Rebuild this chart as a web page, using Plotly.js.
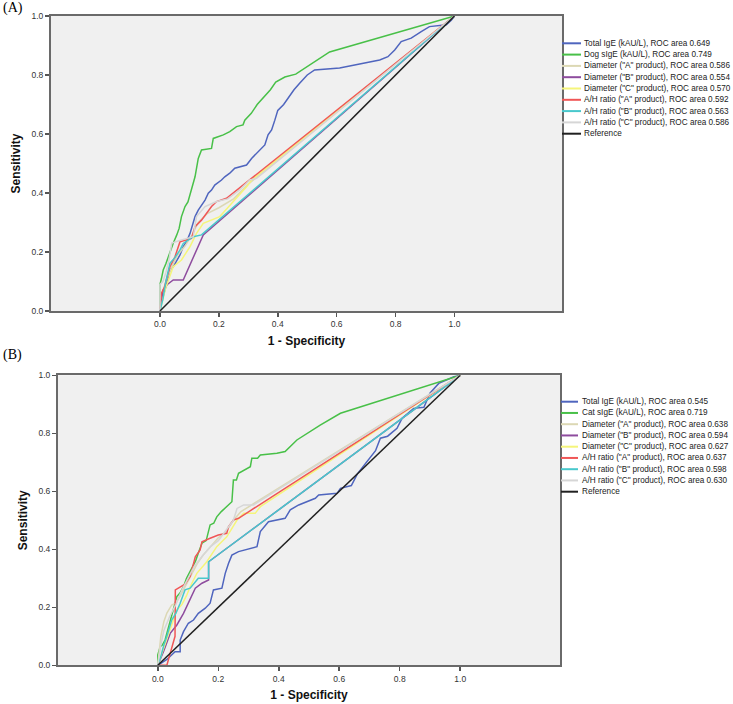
<!DOCTYPE html>
<html>
<head>
<meta charset="utf-8">
<script src="https://cdn.plot.ly/plotly-3.0.1.min.js"></script>
<style>html,body{margin:0;padding:0;background:#fff;}#chart{width:733px;height:704px;}</style>
</head>
<body>
<div id="chart"></div>
<script>
// ---------------- Data: Panel A (Dog) ----------------
const namesA = [
  'Total IgE (kAU/L), ROC area 0.649',
  'Dog sIgE (kAU/L), ROC area 0.749',
  'Diameter ("A" product), ROC area 0.586',
  'Diameter ("B" product), ROC area 0.554',
  'Diameter ("C" product), ROC area 0.570',
  'A/H ratio ("A" product), ROC area 0.592',
  'A/H ratio ("B" product), ROC area 0.563',
  'A/H ratio ("C" product), ROC area 0.586',
  'Reference'
];
const namesB = [
  'Total IgE (kAU/L), ROC area 0.545',
  'Cat sIgE (kAU/L), ROC area 0.719',
  'Diameter ("A" product), ROC area 0.638',
  'Diameter ("B" product), ROC area 0.594',
  'Diameter ("C" product), ROC area 0.627',
  'A/H ratio ("A" product), ROC area 0.637',
  'A/H ratio ("B" product), ROC area 0.598',
  'A/H ratio ("C" product), ROC area 0.630',
  'Reference'
];
const colors = ['#4F65BE','#48C048','#DCD8B4','#8E4C9E','#F5F57A','#F05656','#48C8CC','#D6D6D6','#202020'];

// Total IgE (A)
const a_totalIgE_x = [0,0.005,0.017,0.025,0.034,0.045,0.057,0.068,0.079,0.09,0.102,0.11,0.119,0.13,0.142,0.153,0.164,0.175,0.186,0.198,0.209,0.22,0.237,0.254,0.294,0.311,0.333,0.345,0.356,0.367,0.379,0.39,0.40,0.42,0.44,0.455,0.475,0.50,0.525,0.61,0.678,0.746,0.774,0.797,0.819,0.853,0.887,0.915,0.972,0.989,1];
const a_totalIgE_y = [0,0.03,0.071,0.10,0.139,0.15,0.173,0.19,0.218,0.235,0.263,0.29,0.32,0.342,0.36,0.376,0.399,0.41,0.427,0.435,0.444,0.455,0.467,0.484,0.495,0.517,0.54,0.55,0.563,0.597,0.614,0.647,0.68,0.70,0.73,0.75,0.773,0.80,0.817,0.824,0.837,0.851,0.862,0.885,0.913,0.925,0.947,0.964,0.97,0.986,1];
// Dog sIgE (A)
const a_sIgE_x = [0,0,0.005,0.011,0.02,0.03,0.04,0.045,0.057,0.065,0.073,0.085,0.095,0.107,0.119,0.13,0.141,0.175,0.181,0.215,0.237,0.26,0.282,0.288,0.31,0.33,0.356,0.375,0.393,0.424,0.461,0.576,1];
const a_sIgE_y = [0,0.09,0.11,0.139,0.16,0.19,0.218,0.23,0.258,0.28,0.32,0.354,0.37,0.41,0.455,0.517,0.546,0.551,0.585,0.597,0.608,0.625,0.631,0.647,0.67,0.70,0.73,0.75,0.776,0.793,0.803,0.878,1];
// Diameter A (A)
const a_diamA_x = [0,0.005,0.02,0.04,0.06,0.085,0.11,0.13,0.16,0.2,0.25,0.3,1];
const a_diamA_y = [0,0.05,0.10,0.15,0.19,0.22,0.26,0.30,0.33,0.35,0.38,0.43,1];
// Diameter B (A)
const a_diamB_x = [0,0.011,0.025,0.045,0.079,0.09,0.102,0.124,0.132,0.147,1];
const a_diamB_y = [0,0.071,0.09,0.105,0.105,0.13,0.162,0.207,0.229,0.258,1];
// Diameter C (A)
const a_diamC_x = [0,0.02,0.045,0.073,0.102,0.124,0.147,0.203,0.23,0.26,0.294,0.311,1];
const a_diamC_y = [0,0.08,0.15,0.173,0.218,0.263,0.297,0.32,0.35,0.382,0.421,0.444,1];
// A/H ratio A (A)
const a_ahA_x = [0,0.005,0.015,0.034,0.051,0.068,0.107,0.119,0.141,0.158,0.175,0.192,0.226,1];
const a_ahA_y = [0,0.06,0.08,0.15,0.184,0.235,0.246,0.286,0.308,0.331,0.354,0.371,0.382,1];
// A/H ratio B (A)
const a_ahB_x = [0,0.01,0.02,0.034,0.05,0.068,0.079,0.113,0.141,1];
const a_ahB_y = [0,0.04,0.10,0.162,0.18,0.207,0.229,0.252,0.258,1];
// A/H ratio C (A)
const a_ahC_x = [0,0,0.01,0.02,0.03,0.04,0.07,0.113,0.124,0.153,0.192,0.23,0.27,0.305,0.328,1];
const a_ahC_y = [0,0.09,0.10,0.13,0.17,0.23,0.24,0.252,0.32,0.354,0.371,0.38,0.41,0.444,0.45,1];
// Reference
const ref_x = [0,1];
const ref_y = [0,1];

// ---------------- Data: Panel B (Cat) ----------------
const b_totalIgE_x = [0,0.03,0.057,0.074,0.074,0.085,0.101,0.118,0.134,0.157,0.173,0.184,0.212,0.223,0.234,0.245,0.267,0.328,0.339,0.366,0.421,0.438,0.466,0.493,0.521,0.532,0.593,0.604,0.64,0.66,0.69,0.72,0.736,0.76,0.791,0.808,0.846,0.88,0.9,0.929,0.979,1];
const b_totalIgE_y = [0,0.02,0.047,0.047,0.087,0.116,0.145,0.156,0.179,0.197,0.214,0.26,0.266,0.317,0.352,0.38,0.392,0.409,0.461,0.495,0.507,0.536,0.553,0.564,0.576,0.587,0.593,0.61,0.62,0.66,0.70,0.74,0.783,0.79,0.817,0.852,0.886,0.89,0.938,0.972,0.995,1];
const b_sIgE_x = [0,0,0.008,0.015,0.024,0.03,0.04,0.05,0.063,0.074,0.085,0.095,0.113,0.125,0.135,0.146,0.16,0.173,0.185,0.195,0.21,0.228,0.245,0.25,0.26,0.267,0.306,0.311,0.33,0.339,0.394,0.421,0.46,0.537,0.604,1];
const b_sIgE_y = [0,0.036,0.064,0.07,0.087,0.11,0.15,0.19,0.237,0.25,0.271,0.30,0.334,0.36,0.39,0.421,0.43,0.484,0.49,0.512,0.53,0.547,0.564,0.639,0.639,0.662,0.685,0.714,0.714,0.725,0.731,0.737,0.777,0.828,0.869,1];
const b_diamA_x = [0,0.005,0.01,0.02,0.03,0.046,0.06,0.075,0.09,0.11,0.13,0.15,0.175,0.2,0.225,0.25,0.275,1];
const b_diamA_y = [0,0.05,0.10,0.15,0.18,0.208,0.215,0.24,0.27,0.31,0.35,0.38,0.41,0.44,0.46,0.50,0.53,1];
const b_diamB_x = [0,0.02,0.041,0.063,0.085,0.107,0.124,0.146,0.168,0.168,1];
const b_diamB_y = [0,0.05,0.11,0.139,0.179,0.231,0.266,0.283,0.294,0.357,1];
const b_diamC_x = [0,0.02,0.04,0.063,0.08,0.095,0.107,0.129,0.162,0.195,0.228,0.262,0.284,0.322,0.339,1];
const b_diamC_y = [0,0.06,0.12,0.191,0.21,0.24,0.271,0.317,0.357,0.409,0.443,0.501,0.524,0.524,0.547,1];
const b_ahA_x = [0,0.03,0.041,0.052,0.057,0.058,0.074,0.09,0.107,0.115,0.124,0.14,0.146,0.173,0.2,0.228,0.234,0.25,0.267,1];
const b_ahA_y = [0,0,0.041,0.087,0.10,0.26,0.271,0.28,0.306,0.34,0.374,0.398,0.426,0.438,0.449,0.455,0.478,0.501,0.507,1];
const b_ahB_x = [0,0.01,0.02,0.03,0.046,0.06,0.074,0.09,0.107,0.134,0.168,0.168,1];
const b_ahB_y = [0,0.03,0.07,0.10,0.156,0.18,0.214,0.26,0.266,0.30,0.30,0.357,1];
const b_ahC_x = [0,0.01,0.02,0.04,0.06,0.08,0.10,0.12,0.15,0.175,0.20,0.23,0.25,0.262,0.284,0.317,1];
const b_ahC_y = [0,0.07,0.12,0.17,0.21,0.26,0.30,0.34,0.38,0.41,0.43,0.47,0.50,0.541,0.553,0.553,1];

const seriesA = [
  [a_totalIgE_x,a_totalIgE_y],[a_sIgE_x,a_sIgE_y],[a_diamA_x,a_diamA_y],[a_diamB_x,a_diamB_y],
  [a_diamC_x,a_diamC_y],[a_ahA_x,a_ahA_y],[a_ahB_x,a_ahB_y],[a_ahC_x,a_ahC_y],[ref_x,ref_y]
];
const seriesB = [
  [b_totalIgE_x,b_totalIgE_y],[b_sIgE_x,b_sIgE_y],[b_diamA_x,b_diamA_y],[b_diamB_x,b_diamB_y],
  [b_diamC_x,b_diamC_y],[b_ahA_x,b_ahA_y],[b_ahB_x,b_ahB_y],[b_ahC_x,b_ahC_y],[ref_x,ref_y]
];
const tickVals = [0,0.2,0.4,0.6,0.8,1.0];
const tickText = ['0.0','0.2','0.4','0.6','0.8','1.0'];

// ---------------- Build ----------------
const W = 733, H = 704;
const traces = [];
seriesA.forEach((s,i)=>traces.push({x:s[0],y:s[1],type:'scatter',mode:'lines',name:namesA[i],
  line:{color:colors[i],width:1.5},xaxis:'x',yaxis:'y',showlegend:false,hoverinfo:'skip'}));
seriesB.forEach((s,i)=>traces.push({x:s[0],y:s[1],type:'scatter',mode:'lines',name:namesB[i],
  line:{color:colors[i],width:1.5},xaxis:'x2',yaxis:'y2',showlegend:false,hoverinfo:'skip'}));

const font = 'Arial, "Liberation Sans", sans-serif';
function xax(domain, range, anchor){
  return {domain:domain, range:range, anchor:anchor, tickvals:tickVals, ticktext:tickText,
    showgrid:false, zeroline:false, showline:true, mirror:true, linecolor:'#6a6a6a', linewidth:2,
    ticks:'outside', ticklen:4, tickwidth:1.5, tickcolor:'#555',
    tickfont:{family:font,size:8.5,color:'#333'},
    title:{text:'1 - Specificity', font:{family:font,size:12,color:'#111',weight:'bold'}, standoff:8}};
}
function yax(domain, anchor){
  return {domain:domain, range:[0,1], anchor:anchor, tickvals:tickVals, ticktext:tickText,
    showgrid:false, zeroline:false, showline:true, mirror:true, linecolor:'#6a6a6a', linewidth:2,
    ticks:'outside', ticklen:4, tickwidth:1.5, tickcolor:'#555',
    tickfont:{family:font,size:8.5,color:'#333'},
    title:{text:'Sensitivity', font:{family:font,size:12,color:'#111',weight:'bold'}, standoff:8}};
}

const annotations = [], shapes = [];
function addLegend(names, x0, x1, xt, y0, dy){
  names.forEach((n,i)=>{
    const yy = 1 - (y0 + i*dy)/H;
    shapes.push({type:'line',xref:'paper',yref:'paper',x0:x0/W,x1:x1/W,y0:yy,y1:yy,
      line:{color:colors[i],width:2}});
    annotations.push({xref:'paper',yref:'paper',x:xt/W,y:yy,xanchor:'left',yanchor:'middle',
      text:n,showarrow:false,font:{family:font,size:8.2,color:'#222'}});
  });
}
addLegend(namesA, 562, 581, 582, 43.3, 11.3);
addLegend(namesB, 561, 578, 580, 401.7, 11.25);
annotations.push({xref:'paper',yref:'paper',x:1/W,y:1-8/H,xanchor:'left',yanchor:'middle',text:'(A)',
  showarrow:false,font:{family:'"Liberation Serif","Times New Roman",serif',size:14,color:'#000'}});
annotations.push({xref:'paper',yref:'paper',x:1/W,y:1-355/H,xanchor:'left',yanchor:'middle',text:'(B)',
  showarrow:false,font:{family:'"Liberation Serif","Times New Roman",serif',size:14,color:'#000'}});

const layout = {
  width:W, height:H, margin:{l:0,r:0,t:0,b:0}, paper_bgcolor:'#fff', plot_bgcolor:'#F0F0F0',
  showlegend:false,
  xaxis: xax([51/W, 562/W], [-0.37, 1.365], 'y'),
  yaxis: yax([1-311/H, 1-16/H], 'x'),
  xaxis2: xax([58/W, 560/W], [-0.33, 1.33], 'y2'),
  yaxis2: yax([1-665.3/H, 1-375.3/H], 'x2'),
  annotations: annotations, shapes: shapes
};
Plotly.newPlot('chart', traces, layout, {displayModeBar:false, staticPlot:true});
</script>
</body>
</html>
